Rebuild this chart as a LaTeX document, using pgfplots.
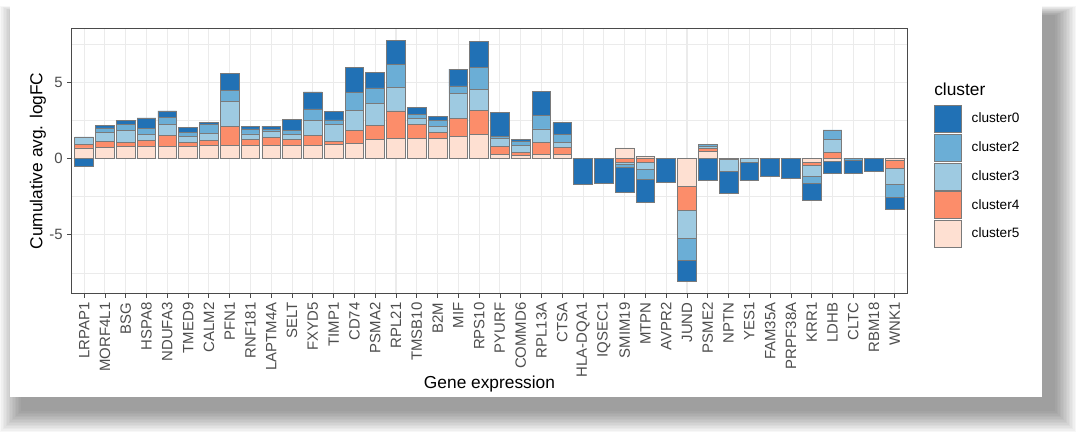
\documentclass[border=0pt]{standalone}
\usepackage{pgfplots}
\usepackage{pgfplotstable}
\pgfplotsset{compat=1.18}
\usepackage{fontspec}
\setmainfont{Liberation Sans}

\definecolor{cA}{HTML}{2171B5}
\definecolor{cB}{HTML}{6BAED6}
\definecolor{cC}{HTML}{9ECAE1}
\definecolor{cD}{HTML}{FC8D6A}
\definecolor{cE}{HTML}{FEE0D2}
\definecolor{edge}{HTML}{7A7A7A}
\definecolor{gridc}{HTML}{EBEBEB}
\definecolor{tickc}{HTML}{4D4D4D}
\definecolor{framec}{HTML}{4A4A4A}

% signed average logFC per gene and cluster
\pgfplotstableread{
x name c0 c2 c3 c4 c5
1 LRPAP1 -0.48 0.05 0.45 0.22 0.70
2 MORF4L1 0.18 0.29 0.62 0.35 0.75
3 BSG 0.26 0.37 0.79 0.31 0.77
4 HSPA8 0.68 0.42 0.40 0.40 0.77
5 NDUFA3 0.42 0.46 0.73 0.73 0.79
6 TMED9 0.35 0.29 0.35 0.31 0.77
7 CALM2 0.13 0.59 0.44 0.37 0.84
8 PFN1 1.08 0.73 1.67 1.23 0.86
9 RNF181 0.15 0.33 0.37 0.37 0.88
10 LAPTM4A 0.20 0.15 0.40 0.50 0.88
11 SELT 0.77 0.22 0.33 0.40 0.88
12 FXYD5 1.12 0.77 0.97 0.64 0.88
13 TIMP1 0.53 0.29 1.15 0.15 0.95
14 CD74 1.61 1.19 1.30 0.86 1.01
15 PSMA2 0.99 1.01 1.45 0.95 1.23
16 RPL21 1.59 1.48 1.56 1.83 1.30
17 TMSB10 0.46 0.29 0.37 0.93 1.32
18 B2M 0.24 0.42 0.35 0.42 1.32
19 MIF 1.10 0.48 1.63 1.23 1.43
20 RPS10 1.72 1.39 1.39 1.59 1.59
21 PYURF 1.59 0.09 0.55 0.53 0.26
22 COMMD6 0.11 0.29 0.46 0.18 0.22
23 RPL13A 1.61 0.88 0.88 0.81 0.26
24 CTSA 0.77 0.51 0.37 0.46 0.26
25 HLA-DQA1 -1.67 0 0 0 0
26 IQSEC1 -1.62 0 0 0 0
27 SMIM19 -1.63 -0.25 -0.10 -0.25 0.70
28 MTPN -1.56 -0.65 -0.42 -0.27 0.15
29 AVPR2 -1.58 0 0 0 0
30 JUND -1.38 -1.43 -1.86 -1.58 -1.82
31 PSME2 -1.40 0.13 0.13 0.21 0.45
32 NPTN -1.40 0 -0.82 -0.05 0
33 YES1 -1.20 0 -0.25 0 0
34 FAM35A -1.16 0 0 0 0
35 PRPF38A -1.30 0 0 0 0
36 KRR1 -1.10 -0.44 -0.75 -0.20 -0.24
37 LDHB -0.82 0.60 0.85 0.43 -0.16
38 CLTC -0.85 -0.12 0 0 0
39 RBM18 -0.81 0 0 0 0
40 WNK1 -0.78 -0.88 -1.02 -0.50 -0.15
}\genes

\pgfplotsset{panel/.style={
  at={(53.78pt,113.63pt)}, anchor=south west,
  scale only axis, width=626.7pt, height=198.8pt,
  xmin=0.4, xmax=40.6, ymin=-8.86, ymax=8.55,
  ybar stacked, bar width=0.9,
}}

\begin{document}
\begin{tikzpicture}
\path[use as bounding box] (0,0) rectangle (810pt,333.75pt);
% soft card shadow (right and bottom)
\foreach \i in {1,...,15}{
  \fill[black,opacity=0.03] ({16.5pt-\i*1.1pt},{26.25pt-\i*1.1pt}) rectangle ({790.5pt+\i*1.1pt},{321.75pt+\i*0.5pt});
}
\fill[white] (7.5pt,36pt) rectangle (781.5pt,333pt);

% positive parts
\begin{axis}[panel,
  xtick={1,...,40},
  xticklabels from table={\genes}{name},
  xticklabel style={rotate=90, anchor=east, font=\fontsize{11.2}{13}\selectfont, text=tickc},
  ytick={-5,0,5}, yticklabels={-5,0,5},
  minor ytick={-7.5,-2.5,2.5,7.5},
  yticklabel style={font=\fontsize{11.2}{13}\selectfont, text=tickc},
  grid=both,
  major grid style={gridc, line width=0.8pt},
  minor grid style={gridc, line width=0.4pt},
  axis line style={framec, line width=0.6pt},
  tick pos=left, tick align=outside,
  major tick length=3.3pt, minor tick length=0pt,
  tick style={framec, line width=0.6pt},
  xlabel={Gene expression}, ylabel={Cumulative avg. logFC},
  label style={font=\fontsize{13}{15}\selectfont},
  xlabel style={at={(axis description cs:0.5,-0.3415)}, anchor=center},
  ylabel style={at={(axis description cs:-0.0404,0.5)}, anchor=center},
  clip=false,
  legend image code/.code={\draw[#1, line width=0.6pt] (0pt,-10.1pt) rectangle (20.25pt,10.1pt); \path[draw=none, fill=none] (0pt,0pt) -- (27.75pt,0pt);},
  legend style={at={(axis description cs:1.032,0.7115)}, anchor=north west,
    draw=none, fill=none, inner sep=0pt, row sep=0.75pt,
    font=\fontsize{10.2}{12}\selectfont, nodes={inner sep=0pt}},
  legend cell align=left,
]
\addlegendimage{fill=cA, draw=edge}\addlegendentry{cluster0}
\addlegendimage{fill=cB, draw=edge}\addlegendentry{cluster2}
\addlegendimage{fill=cC, draw=edge}\addlegendentry{cluster3}
\addlegendimage{fill=cD, draw=edge}\addlegendentry{cluster4}
\addlegendimage{fill=cE, draw=edge}\addlegendentry{cluster5}
\addplot[fill=cE, draw=edge, line width=0.6pt, forget plot] table[x=x, y expr={max(\thisrow{c5},0)}] {\genes};
\addplot[fill=cD, draw=edge, line width=0.6pt, forget plot] table[x=x, y expr={max(\thisrow{c4},0)}] {\genes};
\addplot[fill=cC, draw=edge, line width=0.6pt, forget plot] table[x=x, y expr={max(\thisrow{c3},0)}] {\genes};
\addplot[fill=cB, draw=edge, line width=0.6pt, forget plot] table[x=x, y expr={max(\thisrow{c2},0)}] {\genes};
\addplot[fill=cA, draw=edge, line width=0.6pt, forget plot] table[x=x, y expr={max(\thisrow{c0},0)}] {\genes};
\node[anchor=west, inner sep=0pt, font=\fontsize{13}{15}\selectfont] at (rel axis cs:1.0319,0.772) {cluster};
\end{axis}

% negative parts
\begin{axis}[panel, hide axis, grid=none]
\addplot[fill=cE, draw=edge, line width=0.6pt, forget plot] table[x=x, y expr={min(\thisrow{c5},0)}] {\genes};
\addplot[fill=cD, draw=edge, line width=0.6pt, forget plot] table[x=x, y expr={min(\thisrow{c4},0)}] {\genes};
\addplot[fill=cC, draw=edge, line width=0.6pt, forget plot] table[x=x, y expr={min(\thisrow{c3},0)}] {\genes};
\addplot[fill=cB, draw=edge, line width=0.6pt, forget plot] table[x=x, y expr={min(\thisrow{c2},0)}] {\genes};
\addplot[fill=cA, draw=edge, line width=0.6pt, forget plot] table[x=x, y expr={min(\thisrow{c0},0)}] {\genes};
\end{axis}
\end{tikzpicture}
\end{document}
